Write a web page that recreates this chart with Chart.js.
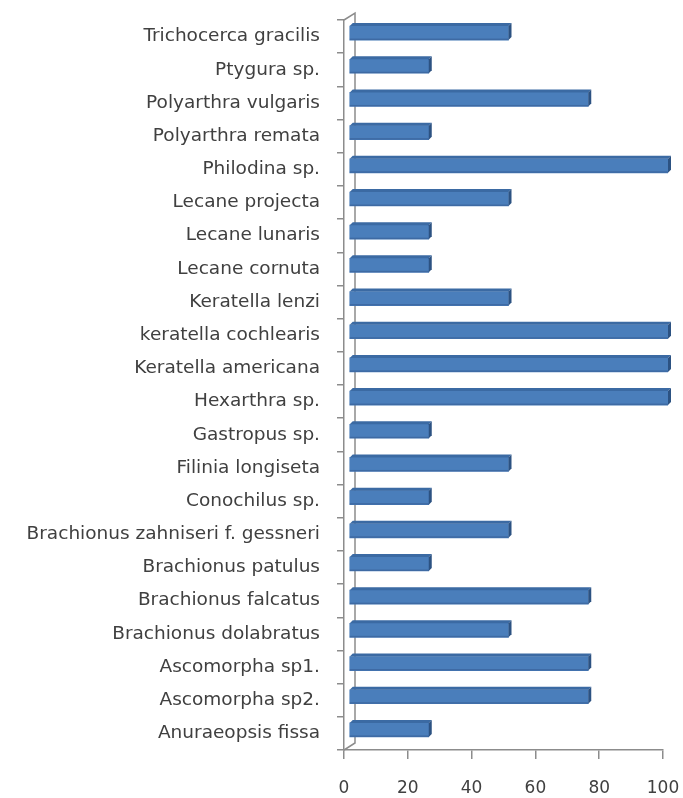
<!DOCTYPE html>
<html>
<head>
<meta charset="utf-8">
<script src="https://cdn.jsdelivr.net/npm/chart.js@4.4.1/dist/chart.umd.min.js"></script>
<style>
    body { margin: 0; background: #fff; }
    #wrap { width: 683px; height: 798px; position: relative; }
</style>
</head>
<body>
<div id="wrap"><canvas id="speciesChart"></canvas></div>
<script>
// Species list, top to bottom
const species = [
    'Trichocerca gracilis', 'Ptygura sp.', 'Polyarthra vulgaris', 'Polyarthra remata',
    'Philodina sp.', 'Lecane projecta', 'Lecane lunaris', 'Lecane cornuta',
    'Keratella lenzi', 'keratella cochlearis', 'Keratella americana', 'Hexarthra sp.',
    'Gastropus sp.', 'Filinia longiseta', 'Conochilus sp.', 'Brachionus zahniseri f. gessneri',
    'Brachionus patulus', 'Brachionus falcatus', 'Brachionus dolabratus', 'Ascomorpha sp1.',
    'Ascomorpha sp2.', 'Anuraeopsis fissa'
];
const frequency = [
    50, 25, 75, 25,
    100, 50, 25, 25,
    50, 100, 100, 100,
    25, 50, 25, 50,
    25, 75, 50, 75,
    75, 25
];
const xMin = 0;
const xMax = 100;
const xStep = 20;

const AXIS_GREY = '#8c8c8c';
const TEXT = '#404040';
// depth of the floor/wall and of the bars inside it
const WALL_DX = 11, WALL_DY = 7;
const BAR_DX = 5, BAR_DY = 3.5;

// back wall edges and floor corner
const wallPlugin = {
    id: 'wall',
    beforeDatasetsDraw(chart) {
        const { ctx, chartArea: a } = chart;
        ctx.save();
        ctx.strokeStyle = AXIS_GREY;
        ctx.lineWidth = 1.5;
        ctx.beginPath();
        ctx.moveTo(a.left, a.top);
        ctx.lineTo(a.left + WALL_DX, a.top - WALL_DY);
        ctx.lineTo(a.left + WALL_DX, a.bottom - WALL_DY);
        ctx.lineTo(a.left, a.bottom);
        ctx.stroke();
        ctx.restore();
    }
};

// draws bars shifted into the depth, with top and end faces
const bar3dPlugin = {
    id: 'bar3d',
    beforeDatasetsDraw(chart) {
        chart.ctx.save();
        chart.ctx.translate(BAR_DX, -BAR_DY);
    },
    afterDatasetsDraw(chart) {
        const ctx = chart.ctx;
        const meta = chart.getDatasetMeta(0);
        const d = 3;
        meta.data.forEach(bar => {
            const p = bar.getProps(['x', 'y', 'base', 'height'], true);
            const top = p.y - p.height / 2;
            const bottom = p.y + p.height / 2;
            // top face
            ctx.fillStyle = '#3b6aa3';
            ctx.beginPath();
            ctx.moveTo(p.base, top);
            ctx.lineTo(p.base + d, top - d);
            ctx.lineTo(p.x + d, top - d);
            ctx.lineTo(p.x, top);
            ctx.closePath();
            ctx.fill();
            // end face
            ctx.fillStyle = '#2c5282';
            ctx.beginPath();
            ctx.moveTo(p.x, top);
            ctx.lineTo(p.x + d, top - d);
            ctx.lineTo(p.x + d, bottom - d);
            ctx.lineTo(p.x, bottom);
            ctx.closePath();
            ctx.fill();
            // soft lower edge
            ctx.fillStyle = 'rgba(40, 70, 120, 0.35)';
            ctx.fillRect(p.base, bottom - 1.5, p.x - p.base, 1.5);
        });
        ctx.restore();
    }
};

new Chart(document.getElementById('speciesChart'), {
    type: 'bar',
    data: {
        labels: species,
        datasets: [{
            data: frequency,
            backgroundColor: '#4a7ebb',
            borderWidth: 0,
            barThickness: 14
        }]
    },
    options: {
        indexAxis: 'y',
        responsive: true,
        maintainAspectRatio: false,
        animation: false,
        layout: { padding: { top: 20, right: 20, left: 0, bottom: 0 } },
        plugins: {
            legend: { display: false },
            tooltip: { enabled: false }
        },
        scales: {
            x: {
                min: xMin,
                max: xMax,
                ticks: {
                    stepSize: xStep,
                    color: TEXT,
                    font: { family: 'DejaVu Sans', size: 17 },
                    padding: 19
                },
                grid: {
                    drawOnChartArea: false,
                    color: AXIS_GREY,
                    tickLength: 9,
                    lineWidth: 1.5
                },
                border: { color: AXIS_GREY, width: 1.5 },
                afterFit(scale) {
                    scale.height = 48;
                    scale.paddingRight = 0;
                    scale.paddingLeft = 0;
                }
            },
            y: {
                ticks: {
                    color: TEXT,
                    font: { family: 'DejaVu Sans', size: 18.5 },
                    padding: 17,
                    autoSkip: false
                },
                grid: {
                    drawOnChartArea: false,
                    offset: true,
                    color: AXIS_GREY,
                    tickLength: 7,
                    lineWidth: 1.5
                },
                border: { color: AXIS_GREY, width: 1.5 },
                afterFit(scale) {
                    scale.width = 344;
                    scale.paddingTop = 0;
                    scale.paddingBottom = 0;
                }
            }
        }
    },
    plugins: [wallPlugin, bar3dPlugin]
});
</script>
</body>
</html>
